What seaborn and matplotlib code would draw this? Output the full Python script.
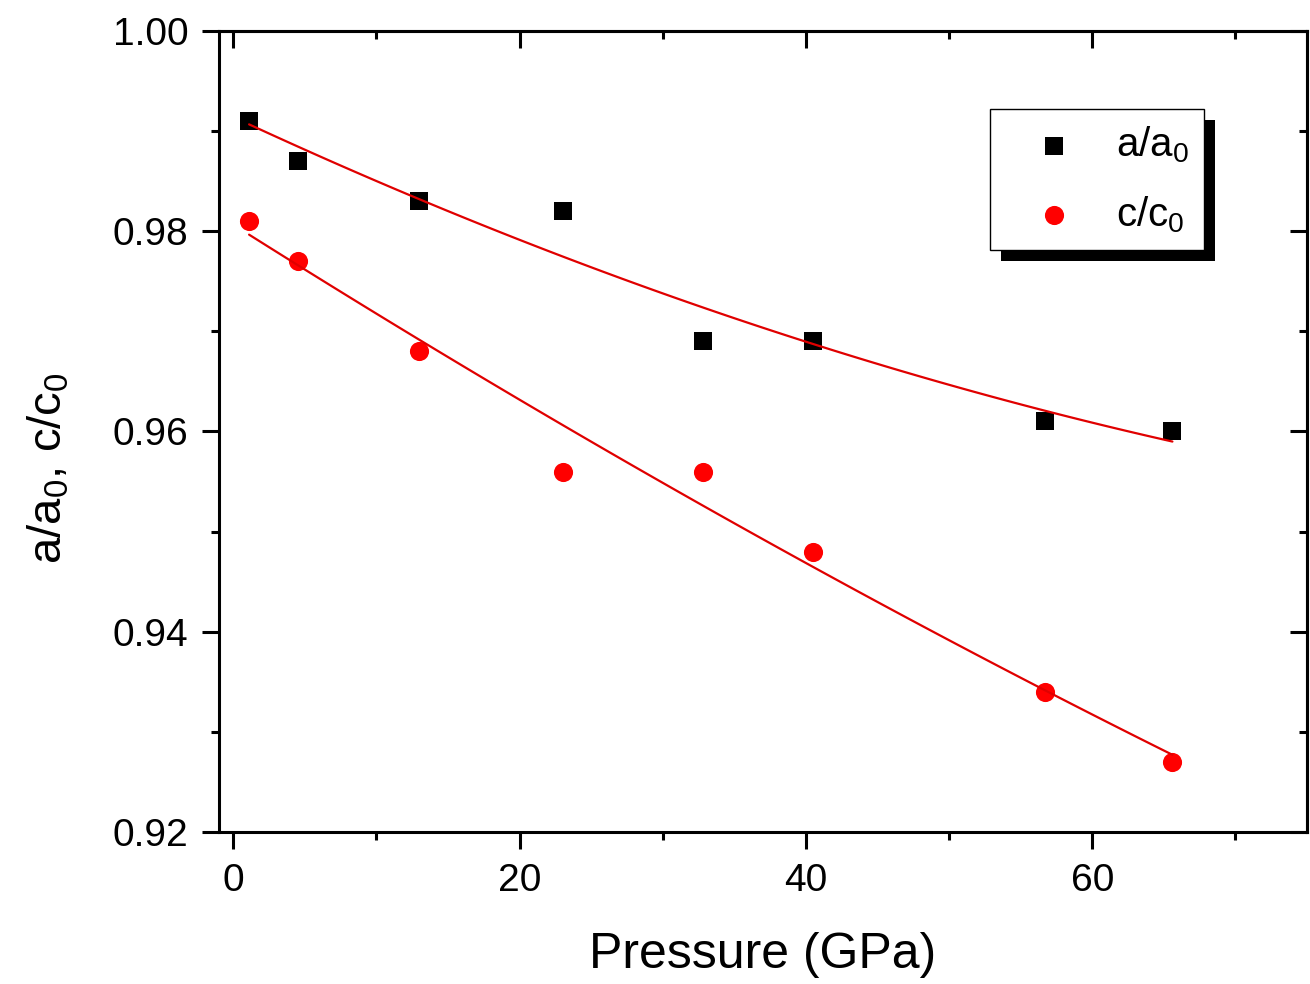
import numpy as np
import matplotlib
matplotlib.use("Agg")
import matplotlib.pyplot as plt
import seaborn as sns
from matplotlib.ticker import MultipleLocator, FormatStrFormatter
from matplotlib.patches import Rectangle
from matplotlib.transforms import IdentityTransform

# data
pressure = [1.1, 4.5, 13.0, 23.0, 32.8, 40.5, 56.7, 65.6]
a_ratio = [0.991, 0.987, 0.983, 0.982, 0.969, 0.969, 0.961, 0.960]
c_ratio = [0.981, 0.977, 0.968, 0.956, 0.956, 0.948, 0.934, 0.927]

sns.set_theme(style="white")
plt.rcParams['font.family'] = ['Liberation Sans', 'DejaVu Sans']
plt.rcParams['mathtext.default'] = 'regular'
plt.rcParams['text.color'] = 'black'
plt.rcParams['axes.labelcolor'] = 'black'
plt.rcParams['xtick.color'] = 'black'
plt.rcParams['ytick.color'] = 'black'

fig = plt.figure(figsize=(13.1, 9.84), dpi=100)
ax = fig.add_axes([0.1672, 0.1545, 0.8305, 0.814])

# smooth fit curves (quadratic fit through the points)
p_fit = np.linspace(min(pressure), max(pressure), 100)
a_fit = np.polyval(np.polyfit(pressure, a_ratio, 2), p_fit)
c_fit = np.polyval(np.polyfit(pressure, c_ratio, 2), p_fit)
sns.lineplot(x=p_fit, y=a_fit, color='#e00000', lw=1.6, ax=ax, legend=False, zorder=3)
sns.lineplot(x=p_fit, y=c_fit, color='#e00000', lw=1.6, ax=ax, legend=False, zorder=3)

sns.scatterplot(x=pressure, y=a_ratio, marker='s', s=165, color='black',
                linewidth=0, ax=ax, label='a/a$_0$', zorder=2)
sns.scatterplot(x=pressure, y=c_ratio, marker='o', s=190, color='#ff0000',
                linewidth=0, ax=ax, label='c/c$_0$', zorder=2)

ax.set_xlim(-1, 75)
ax.set_ylim(0.92, 1.00)
ax.xaxis.set_major_locator(MultipleLocator(20))
ax.xaxis.set_minor_locator(MultipleLocator(10))
ax.yaxis.set_major_locator(MultipleLocator(0.02))
ax.yaxis.set_minor_locator(MultipleLocator(0.01))
ax.yaxis.set_major_formatter(FormatStrFormatter('%.2f'))

for sp in ax.spines.values():
    sp.set_linewidth(2.2)
    sp.set_color('black')

ax.tick_params(which='major', direction='out', length=12, width=2.2,
               labelsize=28, pad=10, colors='black', bottom=True, left=True)
ax.tick_params(which='minor', direction='out', length=6, width=2.2,
               bottom=True, left=True)

# inward ticks on top and right
top = ax.secondary_xaxis('top')
top.xaxis.set_major_locator(MultipleLocator(20))
top.xaxis.set_minor_locator(MultipleLocator(10))
top.tick_params(which='major', direction='in', length=12, width=2.2, labeltop=False)
top.tick_params(which='minor', direction='in', length=6, width=2.2)
top.spines['top'].set_linewidth(2.2)
right = ax.secondary_yaxis('right')
right.yaxis.set_major_locator(MultipleLocator(0.02))
right.yaxis.set_minor_locator(MultipleLocator(0.01))
right.tick_params(which='major', direction='in', length=12, width=2.2, labelright=False)
right.tick_params(which='minor', direction='in', length=6, width=2.2)
right.spines['right'].set_linewidth(2.2)

ax.set_xlabel('Pressure (GPa)', fontsize=36, labelpad=24)
ax.set_ylabel('a/a$_0$, c/c$_0$', fontsize=34)
ax.yaxis.set_label_coords(-0.1356, 0.454)

leg = ax.legend(loc='upper left', bbox_to_anchor=(0.7085, 0.9026), fontsize=29,
                frameon=True, fancybox=False, borderpad=0.38, labelspacing=0.72,
                handlelength=2.45, handletextpad=0.3, borderaxespad=0)
leg.get_frame().set_edgecolor('black')
leg.get_frame().set_linewidth(1.0)
leg.get_frame().set_alpha(1)

# solid black drop shadow behind the legend box
fig.canvas.draw()
bb = leg.get_window_extent()
ax.add_patch(Rectangle((bb.x0 + 11, bb.y0 - 11), bb.width, bb.height,
                       transform=IdentityTransform(), facecolor='black',
                       edgecolor='none', zorder=4.5, clip_on=False))

fig.savefig('out.png', dpi=100)
